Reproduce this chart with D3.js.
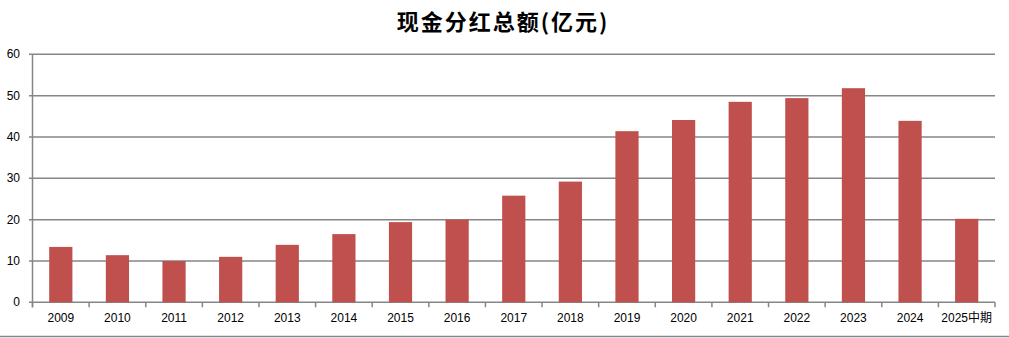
<!DOCTYPE html>
<html><head><meta charset="utf-8">
<script src="https://cdn.jsdelivr.net/npm/d3@7"></script>
<style>html,body{margin:0;padding:0;background:#fff;}svg{display:block;}</style>
</head><body>
<svg id="c" width="1009" height="338"></svg>
<script>
const categories = ["2009","2010","2011","2012","2013","2014","2015","2016","2017","2018","2019","2020","2021","2022","2023","2024","2025中期"];
const values = [13.4,11.4,10.0,11.0,13.9,16.5,19.4,20.0,25.8,29.2,41.4,44.1,48.5,49.4,51.8,43.9,20.2];
const yTicks = [0,10,20,30,40,50,60];
const title = "现金分红总额(亿元)";

(function(){
const svg = d3.select("#c");
const pLeft = 32.5, pRight = 995, pTop = 54.3, pBottom = 302.3;
const x = d3.scaleBand().domain(categories).range([pLeft, pRight]).paddingInner(0.59).paddingOuter(0.295);
const y = d3.scaleLinear().domain([0, 60]).range([pBottom, pTop]);
const grid = "#868686";

svg.append("g").selectAll("line").data(yTicks).join("line")
  .attr("x1", pLeft - 3.5).attr("x2", pRight)
  .attr("y1", d => y(d)).attr("y2", d => y(d))
  .attr("stroke", grid).attr("stroke-width", 1.5);

svg.append("g").selectAll("text").data(yTicks).join("text")
  .attr("x", 20).attr("y", d => y(d) + 4)
  .attr("text-anchor", "end")
  .attr("font-family", "Liberation Sans, Arial, sans-serif").attr("font-size", 12)
  .attr("fill", "#000").text(d => d);

svg.append("g").selectAll("rect").data(values).join("rect")
  .attr("x", (d, i) => x(categories[i]))
  .attr("width", x.bandwidth())
  .attr("y", d => y(d))
  .attr("height", d => y(0) - y(d))
  .attr("fill", "#C0504D");

svg.append("line").attr("x1", pLeft).attr("x2", pLeft).attr("y1", pTop).attr("y2", pBottom + 5)
  .attr("stroke", grid).attr("stroke-width", 1.5);

const step = x.step();
const bounds = d3.range(categories.length + 1).map(i => pLeft + i * step);
svg.append("g").selectAll("line").data(bounds).join("line")
  .attr("x1", d => d).attr("x2", d => d)
  .attr("y1", pBottom).attr("y2", pBottom + 5)
  .attr("stroke", grid).attr("stroke-width", 1.5);

svg.append("g").selectAll("text").data(categories).join("text")
  .attr("x", d => x(d) + x.bandwidth() / 2).attr("y", 322)
  .attr("text-anchor", "middle")
  .attr("font-family", "Liberation Sans, 'Noto Sans CJK SC', Arial, sans-serif").attr("font-size", 12)
  .attr("fill", "#000").text(d => d);

svg.append("text").attr("x", 503).attr("y", 30)
  .attr("text-anchor", "middle")
  .attr("font-family", "'Noto Sans CJK SC', sans-serif").attr("font-size", 22)
  .attr("font-weight", "bold").attr("letter-spacing", 2)
  .attr("fill", "#000").text(title);

svg.append("line").attr("x1", 0).attr("x2", 1009).attr("y1", 336.5).attr("y2", 336.5)
  .attr("stroke", grid).attr("stroke-width", 1.5);
})();
</script>
</body></html>
